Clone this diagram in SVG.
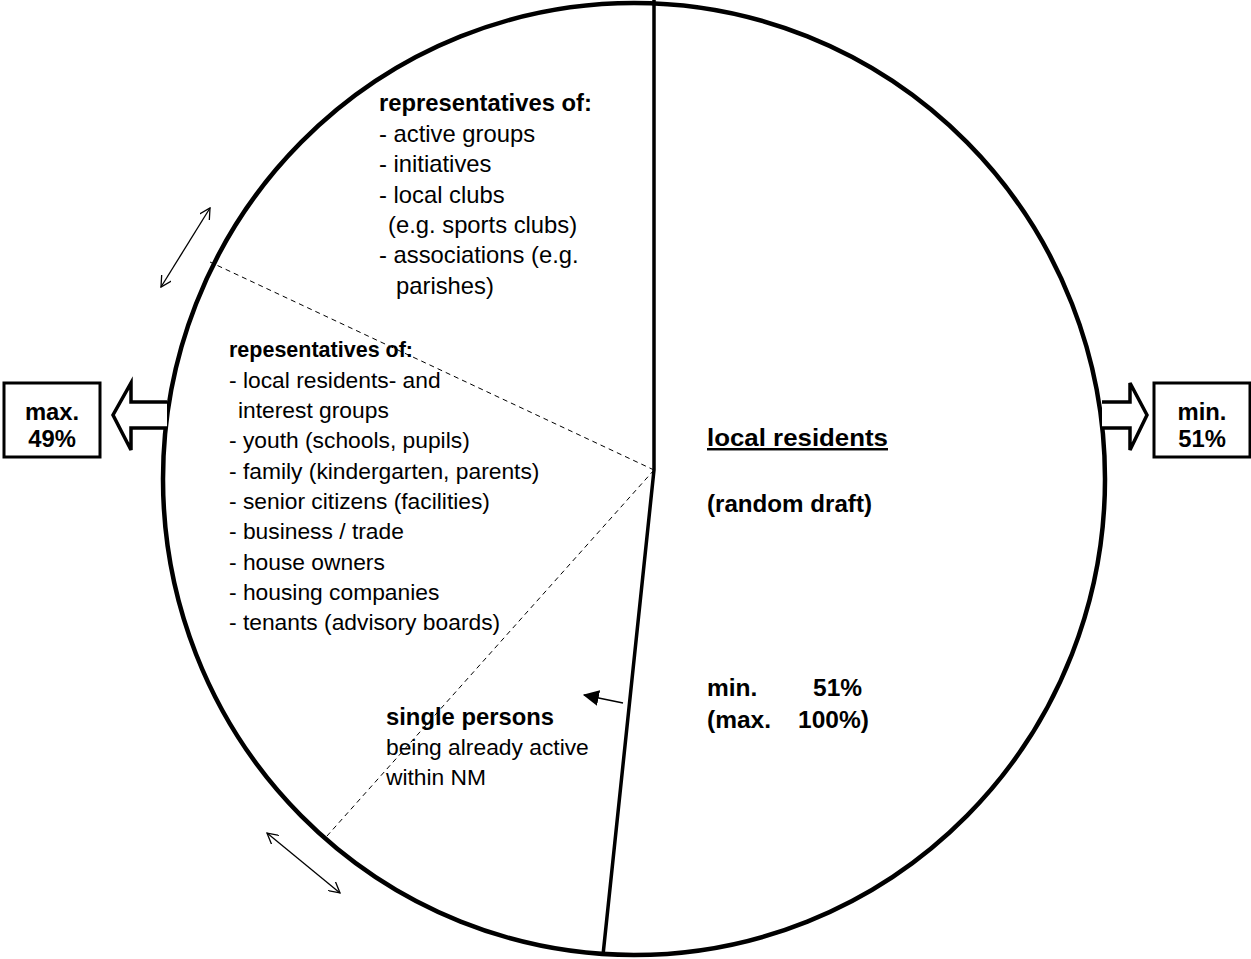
<svg xmlns="http://www.w3.org/2000/svg" width="1251" height="959" viewBox="0 0 1251 959">
<style>
text{font-family:"Liberation Sans",Arial,sans-serif;font-size:22.8px;fill:#000}
.b{font-weight:bold}
.up{font-size:23.8px}
.big{font-size:24.5px}
.thin{stroke:#000;stroke-width:1.3;fill:none}
.dash{stroke:#000;stroke-width:1;stroke-dasharray:5,4;fill:none}
.box{stroke:#000;stroke-width:3;fill:#fff}
.blk{stroke:#000;stroke-width:3.5;fill:#fff;stroke-linejoin:miter}
</style>
<defs>
<marker id="open" viewBox="0 0 12 12" refX="11" refY="6" markerWidth="12" markerHeight="12" markerUnits="userSpaceOnUse" orient="auto-start-reverse">
<path d="M0,0 L11,6 L0,12" fill="none" stroke="#000" stroke-width="1.3"/>
</marker>
<marker id="solid" viewBox="0 0 14 14" refX="13" refY="7" markerWidth="16" markerHeight="16" markerUnits="userSpaceOnUse" orient="auto">
<path d="M0,0 L14,7 L0,14 Z" fill="#000"/>
</marker>
</defs>
<g id="circle">
<ellipse cx="634" cy="479" rx="471" ry="476" fill="#fff" stroke="#000" stroke-width="4.5"/>
</g>
<g id="connectors">
<path d="M654,0 L654,470 L603,955" fill="none" stroke="#000" stroke-width="3.5"/>
<line class="dash" x1="654" y1="470" x2="210" y2="262"/>
<line class="dash" x1="654" y1="470" x2="327" y2="836"/>
<line class="thin" x1="210" y1="208" x2="161" y2="287" marker-start="url(#open)" marker-end="url(#open)"/>
<line class="thin" x1="267" y1="833" x2="340" y2="893" marker-start="url(#open)" marker-end="url(#open)"/>
<line x1="623" y1="703" x2="584" y2="695" stroke="#000" stroke-width="1.5" marker-end="url(#solid)"/>
<path class="blk" d="M167,402 L131,402 L131,383 L113,415 L131,450 L131,428 L167,428"/>
<path class="blk" d="M1102,402 L1130,402 L1130,383 L1147,415 L1130,450 L1130,428 L1102,428"/>
</g>
<g id="max-box">
<rect class="box" x="4" y="383" width="96" height="74"/>
<text class="b up" x="52" y="420" text-anchor="middle">max.</text>
<text class="b up" x="52" y="447" text-anchor="middle">49%</text>
</g>
<g id="min-box">
<rect class="box" x="1154" y="383" width="96" height="74"/>
<text class="b up" x="1202" y="420" text-anchor="middle">min.</text>
<text class="b up" x="1202" y="447" text-anchor="middle">51%</text>
</g>
<g id="associations">
<text class="b up" x="379" y="111">representatives of:</text>
<text class="up" x="379" y="142">- active groups</text>
<text class="up" x="379" y="172">- initiatives</text>
<text class="up" x="379" y="203">- local clubs</text>
<text class="up" x="388" y="233">(e.g. sports clubs)</text>
<text class="up" x="379" y="263">- associations (e.g.</text>
<text class="up" x="396" y="294">parishes)</text>
</g>
<g id="interest-groups">
<text class="b" x="229" y="357" style="font-size:21.5px">repesentatives of:</text>
<text x="229" y="388">- local residents- and</text>
<text x="238" y="418">interest groups</text>
<text x="229" y="448">- youth (schools, pupils)</text>
<text x="229" y="479">- family (kindergarten, parents)</text>
<text x="229" y="509">- senior citizens (facilities)</text>
<text x="229" y="539">- business / trade</text>
<text x="229" y="570">- house owners</text>
<text x="229" y="600">- housing companies</text>
<text x="229" y="630">- tenants (advisory boards)</text>
</g>
<g id="single-persons">
<text class="b up" x="386" y="725">single persons</text>
<text x="386" y="755">being already active</text>
<text x="386" y="785">within NM</text>
</g>
<g id="local-residents">
<text class="b big" x="707" y="446" text-decoration="underline" textLength="181" lengthAdjust="spacingAndGlyphs">local residents</text>
<text class="b big" x="707" y="512" textLength="165" lengthAdjust="spacingAndGlyphs">(random draft)</text>
<text class="b big" x="707" y="696">min.</text>
<text class="b big" x="813" y="696">51%</text>
<text class="b big" x="707" y="728">(max.</text>
<text class="b big" x="798" y="728">100%)</text>
</g>
</svg>
